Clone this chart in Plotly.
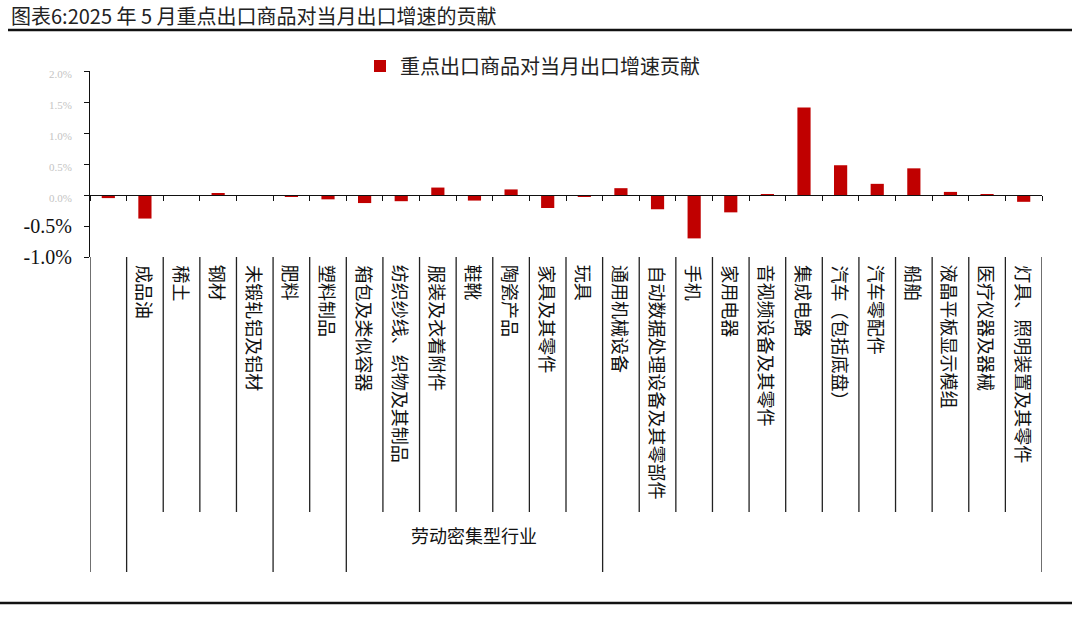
import plotly.graph_objects as go

# ---------------- data ----------------
categories = [" ", "成品油", "稀土", "钢材", "未锻轧铝及铝材", "肥料", "塑料制品",
              "箱包及类似容器", "纺织纱线、织物及其制品", "服装及衣着附件", "鞋靴", "陶瓷产品",
              "家具及其零件", "玩具", "通用机械设备", "自动数据处理设备及其零部件", "手机",
              "家用电器", "音视频设备及其零件", "集成电路", "汽车（包括底盘）", "汽车零配件",
              "船舶", "液晶平板显示模组", "医疗仪器及器械", "灯具、照明装置及其零件"]
values = [-0.05, -0.38, -0.01, 0.03, -0.01, -0.02, -0.07,
          -0.13, -0.10, 0.12, -0.09, 0.09,
          -0.21, -0.02, 0.11, -0.23, -0.70,
          -0.28, 0.01, 1.41, 0.48, 0.18,
          0.43, 0.05, 0.01, -0.11]
group_names = ["", "", "", "劳动密集型行业", ""]
group_sizes = [1, 4, 2, 7, 12]
y_tickvals = [-1.0, -0.5, 0.0, 0.5, 1.0, 1.5, 2.0]
y_ticktext = ["-1.0%", "-0.5%", "0.0%", "0.5%", "1.0%", "1.5%", "2.0%"]
series_name = "重点出口商品对当月出口增速贡献"
title_text = "图表6:2025 年 5 月重点出口商品对当月出口增速的贡献"

# ---------------- styles ----------------
CJK = "Noto Sans CJK SC"
SERIF = "Liberation Serif"
RED = "#C00000"
W, H = 1080, 636
# target plot area in page pixels
SX0, SX1, SY0, SY1 = 90, 1042, 71, 257
L, R, T, B = SX0, W - SX1, SY0, H - SY1
ymin, ymax = -1.0, 2.0

def py(px):  # pixel y -> paper y
    return (SY1 - px) / (SY1 - SY0)

def pxx(px):  # pixel x -> paper x
    return (px - SX0) / (SX1 - SX0)

faint = lambda s: f"<span style='color:#c4c4c4;font-size:11px'>{s}</span>"
ticktext = [t if v < 0 else faint(t) for v, t in zip(y_tickvals, y_ticktext)]

fig = go.Figure()
fig.add_trace(go.Bar(x=categories, y=values, name=series_name,
                     marker=dict(color=RED, line=dict(width=0)), showlegend=True))

shapes = []
annotations = []

# category separators below plot and group dividers
starts = []
s = -0.5
for n in group_sizes:
    starts.append(s)
    s += n
group_bounds = set(starts + [s])
for i in range(len(categories) + 1):
    b = i - 0.5
    y1 = py(572) if b in group_bounds else py(512)
    shapes.append(dict(type="line", xref="x", yref="paper", x0=b, x1=b, y0=0, y1=y1,
                       line=dict(color="#222", width=1.3)))

# category labels (vertical)
for c in categories:
    annotations.append(dict(x=c, xref="x", y=py(263), yref="paper", text=c.strip(),
                            textangle=90, showarrow=False, xanchor="center", yanchor="top",
                            font=dict(family=CJK, size=18, color="#111")))

# group labels
for st, n, g in zip(starts, group_sizes, group_names):
    if g:
        annotations.append(dict(x=st + n / 2, xref="x", y=py(535), yref="paper", text=g,
                                showarrow=False, xanchor="center", yanchor="middle",
                                font=dict(family=CJK, size=18, color="#111")))

# title and rules
annotations.append(dict(x=pxx(9), xref="paper", y=py(15), yref="paper", text=title_text,
                        showarrow=False, xanchor="left", yanchor="middle",
                        font=dict(family=CJK, size=20, color="#222")))
shapes.append(dict(type="line", xref="paper", yref="paper", x0=pxx(8), x1=pxx(1072),
                   y0=py(30), y1=py(30), line=dict(color="#111", width=2.5)))
shapes.append(dict(type="line", xref="paper", yref="paper", x0=pxx(0), x1=pxx(1072),
                   y0=py(603), y1=py(603), line=dict(color="#111", width=2.5)))

fig.update_layout(
    width=W, height=H,
    margin=dict(l=L, r=R, t=T, b=B, autoexpand=False),
    paper_bgcolor="white", plot_bgcolor="white",
    bargap=0.64,
    showlegend=True,
    legend=dict(orientation="h", x=pxx(360), y=py(66), xanchor="left", yanchor="middle",
                font=dict(family=CJK, size=20, color="#222"), bgcolor="rgba(0,0,0,0)"),
    xaxis=dict(type="category", categoryorder="array", categoryarray=categories,
               range=[-0.5, len(categories) - 0.5], anchor="free",
               position=(0 - ymin) / (ymax - ymin),
               showline=True, linecolor="#111", linewidth=1.3,
               ticks="outside", tickson="boundaries", ticklen=5, tickcolor="#111", tickwidth=1.3,
               showticklabels=False, showgrid=False, zeroline=False),
    yaxis=dict(range=[ymin, ymax], tickvals=y_tickvals, ticktext=ticktext,
               showline=True, linecolor="#111", linewidth=1.3,
               ticks="outside", ticklen=5, tickcolor="#111", tickwidth=1.3,
               ticklabelstandoff=8,
               tickfont=dict(family=SERIF, size=20, color="#111"),
               showgrid=False, zeroline=False),
    shapes=shapes,
    annotations=annotations,
)

fig.write_html("out.html", config={"displayModeBar": False},
               post_script="document.body.style.margin='0';document.body.style.overflow='hidden';")
